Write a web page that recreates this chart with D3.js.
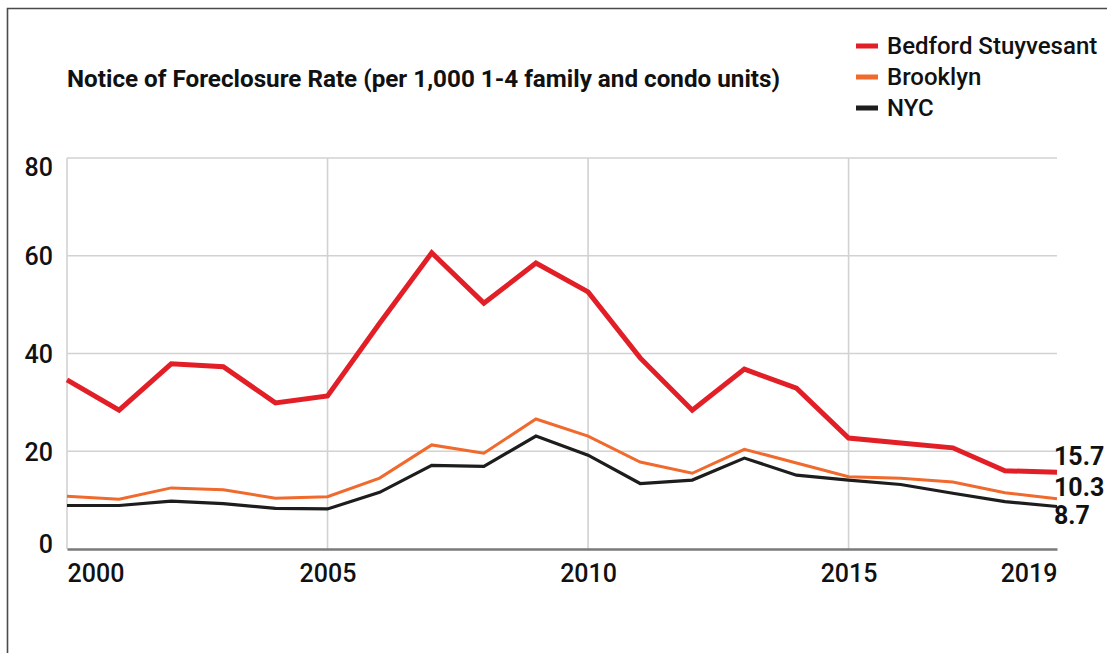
<!DOCTYPE html>
<html>
<head>
<meta charset="utf-8">
<script src="https://cdn.jsdelivr.net/npm/d3@7"></script>
<style>
  body { margin: 0; background: #fff; }
  svg { display: block; }
  text { font-family: Roboto, "DejaVu Sans", sans-serif; fill: #111; }
</style>
</head>
<body>
<svg id="chart" width="1107" height="653"></svg>
<script>
// years on the x axis
var years = d3.range(2000, 2020);

// notice of foreclosure rate per 1,000 units
var bedStuy  = [34.6, 28.4, 37.9, 37.3, 29.9, 31.3, 46.2, 60.6, 50.3, 58.5,
                52.6, 39.1, 28.4, 36.8, 32.9, 22.7, 21.7, 20.7, 16.0, 15.7];
var brooklyn = [10.8, 10.2, 12.5, 12.1, 10.4, 10.7, 14.5, 21.3, 19.6, 26.6,
                23.1, 17.8, 15.5, 20.4, 17.6, 14.8, 14.5, 13.7, 11.5, 10.3];
var nyc      = [ 8.9,  8.9,  9.8,  9.3,  8.3,  8.2, 11.6, 17.1, 16.9, 23.1,
                19.2, 13.4, 14.1, 18.6, 15.1, 14.1, 13.2, 11.4,  9.7,  8.7];

var seriesNames = ["Bedford Stuyvesant", "Brooklyn", "NYC"];
var yTicks = [0, 20, 40, 60, 80];
var xTicks = [2000, 2005, 2010, 2015, 2019];
var title = "Notice of Foreclosure Rate (per 1,000 1-4 family and condo units)";

var series = [
  {name: seriesNames[0], values: bedStuy,  color: "#e21f27", width: 5,   nudge: -16},
  {name: seriesNames[1], values: brooklyn, color: "#f0692d", width: 3,   nudge: -12},
  {name: seriesNames[2], values: nyc,      color: "#1d1d1d", width: 3.2, nudge: 9}
];

var svg = d3.select("#chart");

/* frame lines on the top and left */
svg.append("path")
  .attr("d", "M7.5,653V8.5H1107")
  .attr("fill", "none").attr("stroke", "#4a4a4a").attr("stroke-width", 1.6);

var x = d3.scaleLinear().domain([2000, 2019]).range([67, 1057]);
var y = d3.scaleLinear().domain([0, 80]).range([549, 158]);

/* grid */
var grid = svg.append("g");
grid.selectAll(".hg").data(yTicks.filter(function(d) { return d > 0; }))
  .enter().append("line")
  .attr("x1", x(2000)).attr("x2", x(2019))
  .attr("y1", function(d) { return y(d); }).attr("y2", function(d) { return y(d); })
  .attr("stroke", "#d2d2d2").attr("stroke-width", 1.6);
grid.selectAll(".vg").data([2000, 2005, 2010, 2015])
  .enter().append("line")
  .attr("x1", function(d) { return x(d); }).attr("x2", function(d) { return x(d); })
  .attr("y1", y(80)).attr("y2", y(0))
  .attr("stroke", "#d2d2d2").attr("stroke-width", 1.6);

/* axes */
var yAxis = svg.append("g").attr("transform", "translate(53,0)")
  .call(d3.axisLeft(y).tickValues(yTicks).tickSize(0).tickPadding(0));
yAxis.select(".domain").remove();
yAxis.selectAll("text")
  .style("font-family", "Roboto, sans-serif").style("font-size", "25px")
  .style("font-weight", 500).attr("fill", "#111")
  .attr("dy", function(d) { return d === 80 ? "0.7em" : d === 0 ? "0.12em" : "0.35em"; });

var xAxis = svg.append("g").attr("transform", "translate(0," + y(0) + ")")
  .call(d3.axisBottom(x).tickValues(xTicks).tickFormat(d3.format("d")).tickSize(0).tickPadding(0));
xAxis.select(".domain").attr("stroke", "#7a7a7a").attr("stroke-width", 2.6);
xAxis.selectAll("text")
  .style("font-family", "Roboto, sans-serif").style("font-size", "25px")
  .style("font-weight", 500).attr("fill", "#111")
  .attr("y", 24).attr("dy", "0.35em")
  .attr("text-anchor", function(d) { return d === 2000 ? "start" : d === 2019 ? "end" : "middle"; });

/* lines */
var line = d3.line()
  .x(function(d, i) { return x(years[i]); })
  .y(function(d) { return y(d); });

svg.selectAll(".series").data(series.slice().reverse())
  .enter().append("path")
  .attr("d", function(s) { return line(s.values); })
  .attr("fill", "none")
  .attr("stroke", function(s) { return s.color; })
  .attr("stroke-width", function(s) { return s.width; })
  .attr("stroke-linejoin", "miter");

/* end labels */
svg.selectAll(".endlabel").data(series)
  .enter().append("text")
  .attr("x", x(2019) - 3)
  .attr("y", function(s) { return y(s.values[s.values.length - 1]) + s.nudge; })
  .attr("dy", "0.36em")
  .style("font-size", "25px").style("font-weight", 700)
  .text(function(s) { return s.values[s.values.length - 1].toFixed(1); });

/* title */
svg.append("text")
  .attr("x", 67).attr("y", 87)
  .attr("textLength", 713).attr("lengthAdjust", "spacingAndGlyphs")
  .style("font-size", "23px").style("font-weight", 700)
  .text(title);

/* legend */
var legend = svg.append("g").attr("transform", "translate(856,46)");
var item = legend.selectAll("g").data(series).enter().append("g")
  .attr("transform", function(d, i) { return "translate(0," + i * 31 + ")"; });
item.append("rect")
  .attr("x", 0).attr("y", -2.5).attr("width", 22).attr("height", 5)
  .attr("fill", function(d) { return d.color; });
item.append("text")
  .attr("x", 31).attr("dy", "0.35em")
  .style("font-size", "24px").style("font-weight", 500)
  .text(function(d) { return d.name; });
</script>
</body>
</html>
